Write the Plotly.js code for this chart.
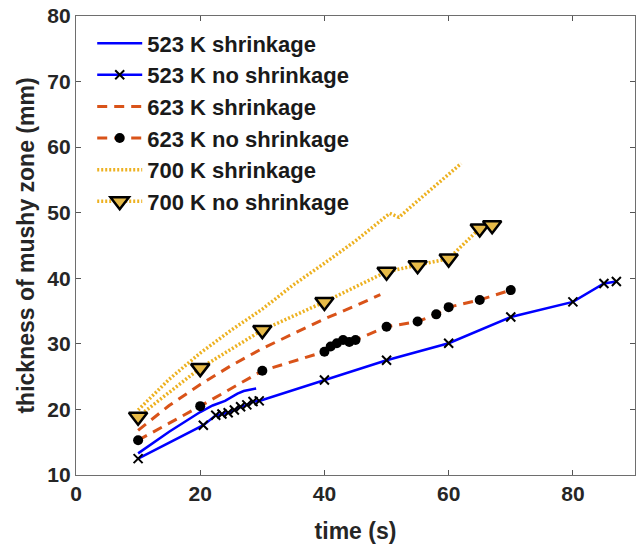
<!DOCTYPE html>
<html>
<head>
<meta charset="utf-8">
<script src="https://cdn.plot.ly/plotly-3.0.1.min.js"></script>
<style>html,body{margin:0;padding:0;background:#fff;}#chart{width:640px;height:550px;}</style>
</head>
<body>
<div id="chart"></div>
<script>
// 523 K
var t523s = [10, 15, 20, 22, 24, 25, 26, 27, 29];
var y523s = [13.3, 16.6, 19.6, 20.6, 21.3, 21.9, 22.4, 22.8, 23.2];
var t523n = [10, 20.5, 22.5, 23.5, 24.5, 25.5, 26.5, 27.5, 28.5, 29.5, 40, 50, 60, 70, 80, 85, 87];
var y523n = [12.5, 17.6, 19.1, 19.3, 19.5, 19.9, 20.4, 20.7, 21.2, 21.3, 24.5, 27.5, 30.1, 34.1, 36.4, 39.2, 39.5];
// 623 K
var t623s = [10, 15, 20, 25, 30, 35, 40, 45, 49];
var y623s = [16.8, 20.6, 23.8, 26.7, 29.3, 31.6, 33.8, 35.8, 37.5];
var t623n = [10, 20, 30, 40, 41, 42, 43, 44, 45, 50, 55, 58, 60, 65, 70];
var y623n = [15.3, 20.5, 25.9, 28.8, 29.6, 30.1, 30.6, 30.3, 30.6, 32.6, 33.4, 34.5, 35.6, 36.7, 38.2];
// 700 K
var t700s = [10, 15, 20, 25, 30, 35, 40, 45, 50.5, 52, 55, 58, 62];
var y700s = [19.9, 24.6, 28.6, 32.1, 35.3, 39.0, 42.3, 45.7, 49.9, 49.3, 51.8, 54.3, 57.5];
var t700n = [10, 20, 30, 40, 50, 55, 60, 65, 67];
var y700n = [18.9, 26.3, 32.1, 36.4, 41.0, 42.0, 43.0, 47.6, 48.1];

var names = ['523 K shrinkage', '523 K no shrinkage', '623 K shrinkage',
             '623 K no shrinkage', '700 K shrinkage', '700 K no shrinkage'];

var blue = '#0000FF', orange = '#D95319', yellow = '#EDB120';
var dashed = '10px,7px', dotted = '2px,2px';

var traces = [
  {x: t523s, y: y523s, name: names[0], mode: 'lines', line: {color: blue, width: 2.5}},
  {x: t523n, y: y523n, name: names[1], mode: 'lines+markers', line: {color: blue, width: 2.5},
   marker: {symbol: 'x-thin', size: 9, color: '#000', line: {color: '#000', width: 2}}},
  {x: t623s, y: y623s, name: names[2], mode: 'lines', line: {color: orange, width: 3, dash: dashed}},
  {x: t623n, y: y623n, name: names[3], mode: 'lines+markers', line: {color: orange, width: 3, dash: dashed},
   marker: {symbol: 'circle', size: 10, color: '#000'}},
  {x: t700s, y: y700s, name: names[4], mode: 'lines', line: {color: yellow, width: 3.5, dash: dotted}},
  {x: t700n, y: y700n, name: names[5], mode: 'lines+markers', line: {color: yellow, width: 3.5, dash: dotted},
   marker: {symbol: 'triangle-down', size: 16, color: '#E6BA48', line: {color: '#000', width: 2.5}}}
];
traces.forEach(function (tr, i) { tr.legendgroup = 'g' + i; tr.type = 'scatter'; });

var fam = 'Liberation Sans, Arial, sans-serif';
var tickFont = {family: fam, size: 21, color: '#262626', weight: 'bold'};
var titleFont = {family: fam, size: 23, color: '#262626', weight: 'bold'};

var layout = {
  width: 640, height: 550,
  margin: {l: 76, r: 5, t: 16, b: 75},
  paper_bgcolor: '#fff', plot_bgcolor: '#fff',
  font: tickFont,
  showlegend: true,
  legend: {x: 0.029, y: 0.986, xanchor: 'left', yanchor: 'top', bgcolor: 'rgba(255,255,255,0)',
           borderwidth: 0, tracegroupgap: 0, itemwidth: 45,
           font: {family: fam, size: 22, color: '#1a1a1a', weight: 'bold'}},
  xaxis: {range: [0, 90], tickvals: [0, 20, 40, 60, 80], ticks: 'inside', ticklen: 5, tickcolor: '#555',
          showline: true, linecolor: '#6e6e6e', linewidth: 1.2, mirror: 'ticks', showgrid: false, zeroline: false,
          tickfont: tickFont, title: {text: 'time (s)', font: titleFont, standoff: 18}},
  yaxis: {range: [10, 80], tickvals: [10, 20, 30, 40, 50, 60, 70, 80], ticks: 'inside', ticklen: 5, tickcolor: '#555',
          showline: true, linecolor: '#6e6e6e', linewidth: 1.2, mirror: 'ticks', showgrid: false, zeroline: false,
          tickfont: tickFont, title: {text: 'thickness of mushy zone (mm)', font: titleFont, standoff: 6}}
};

Plotly.newPlot('chart', traces, layout, {displayModeBar: false, staticPlot: true});
</script>
</body>
</html>
